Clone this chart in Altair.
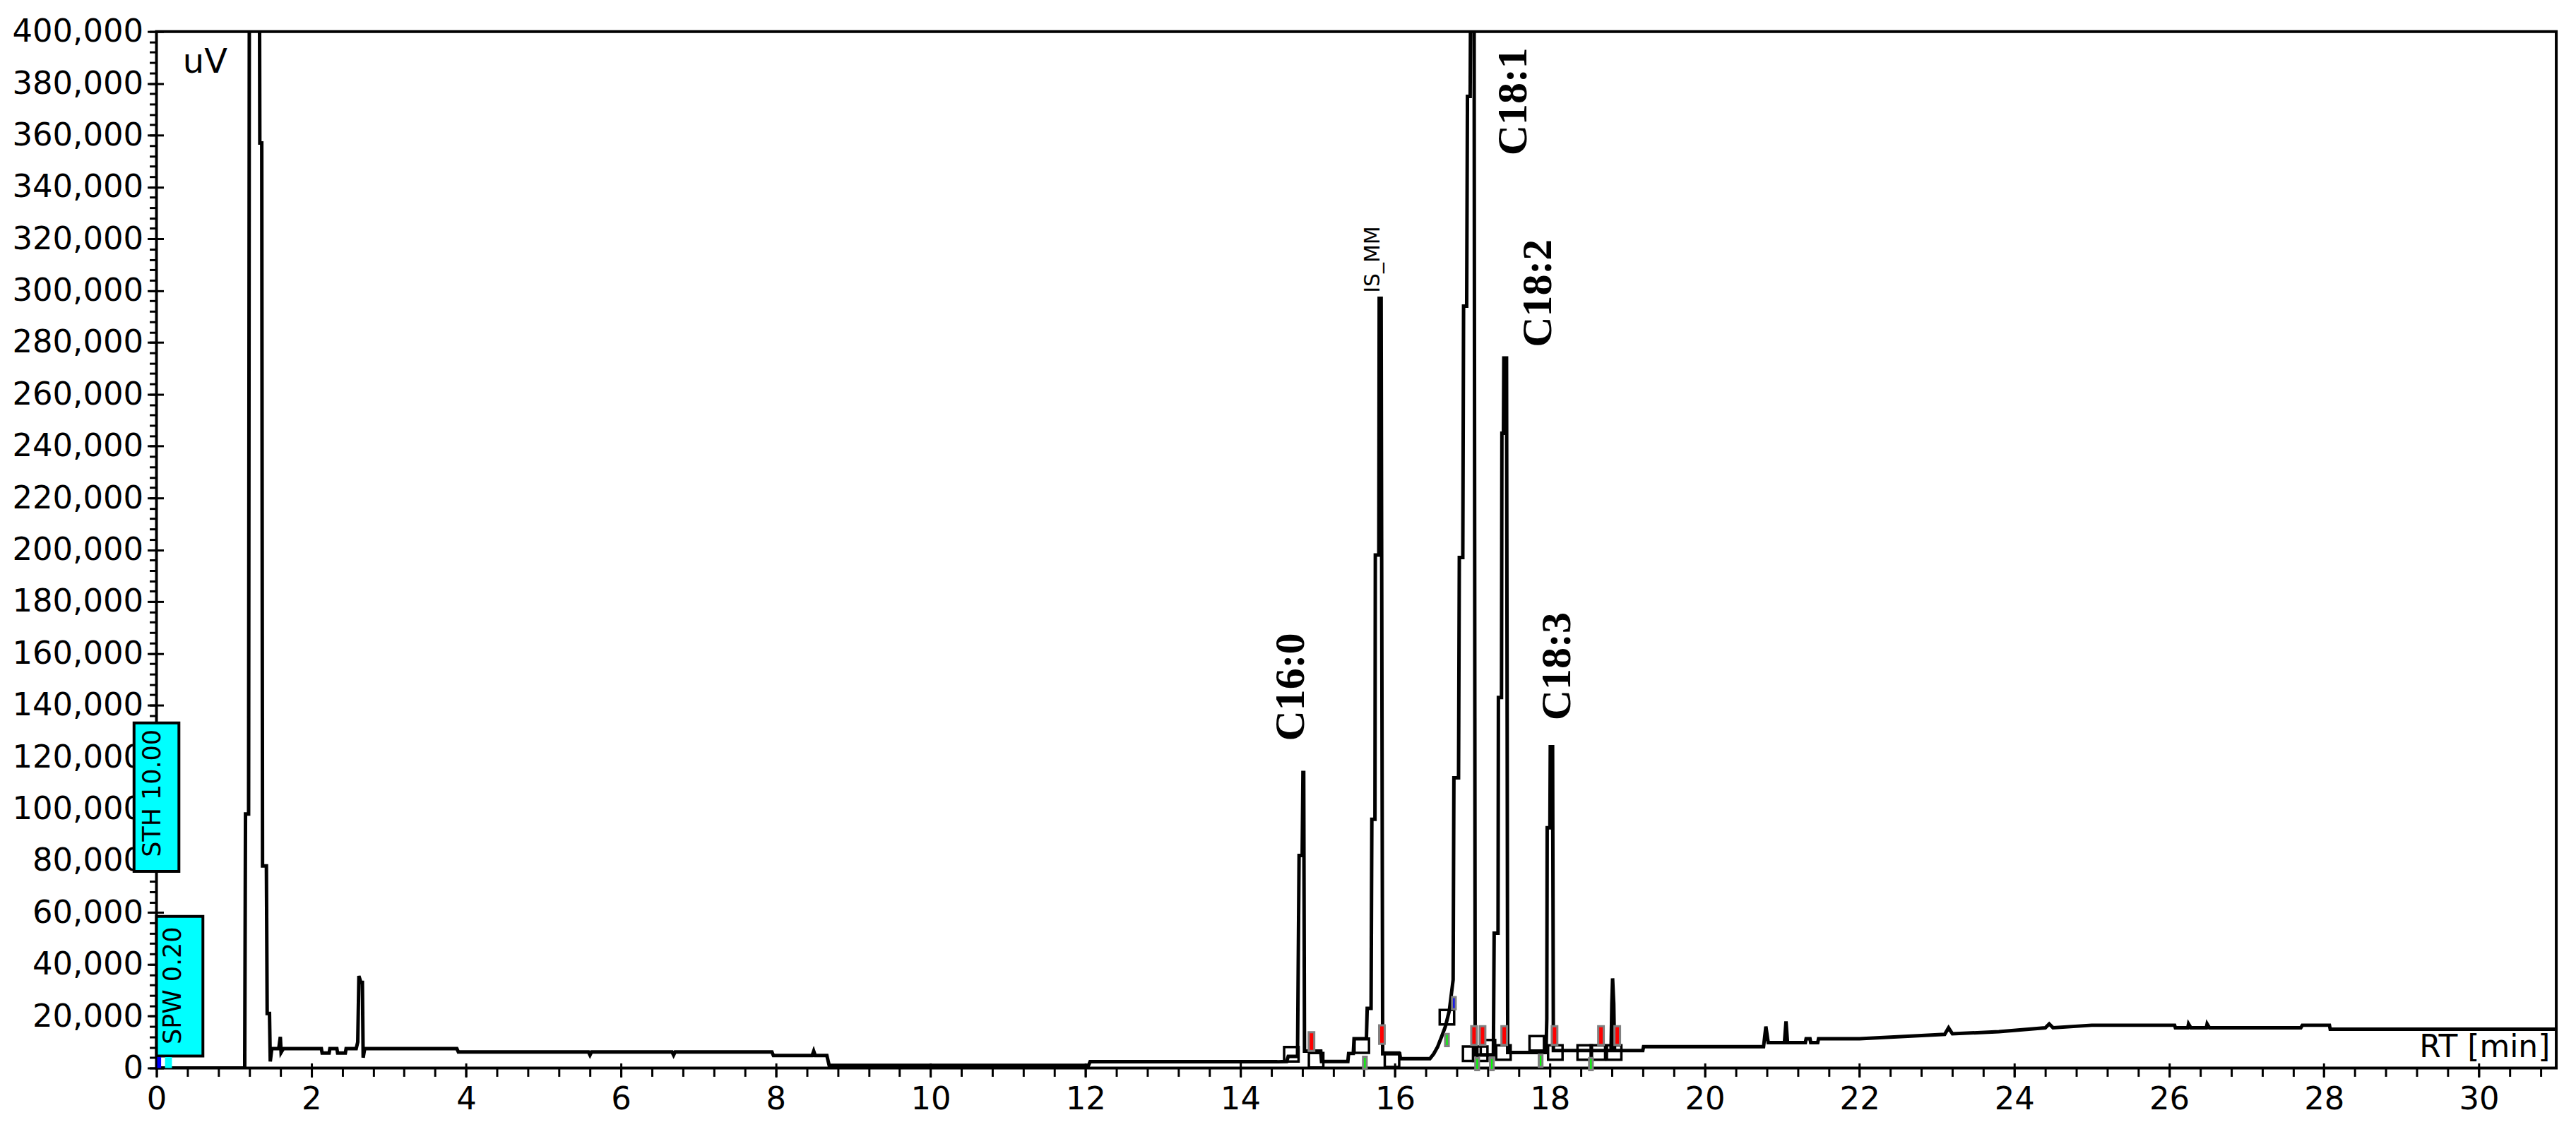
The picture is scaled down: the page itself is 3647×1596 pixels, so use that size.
import altair as alt
import pandas as pd

# ---------------- chromatogram trace (RT in min, signal in uV) ----------------
time_min = [
    0.00, 1.14, 1.15, 1.19, 1.20, 1.33, 1.335, 1.36, 1.37, 1.42, 1.43, 1.46, 1.47, 1.49,
    1.58, 1.60, 1.61, 1.64, 2.13, 2.14, 2.23, 2.24, 2.33, 2.34, 2.44, 2.45, 2.58, 2.60,
    2.615, 2.64, 2.66, 2.67, 2.69, 3.88, 3.90, 5.58, 5.60, 5.62, 6.66, 6.68, 6.70, 7.95,
    7.97, 8.47, 8.49, 8.51, 8.66, 8.69, 12.04, 12.06, 14.48, 14.60, 14.62, 14.74, 14.76,
    14.80, 14.81, 14.82, 14.83, 15.04, 15.05, 15.39, 15.40, 15.46, 15.47, 15.63, 15.64,
    15.69, 15.70, 15.74, 15.745, 15.79, 15.795, 15.82, 15.84, 16.06, 16.07, 16.45, 16.50,
    16.55, 16.60, 16.65, 16.70, 16.75, 16.76, 16.82, 16.83, 16.875, 16.885, 16.925,
    16.935, 16.97, 16.98, 17.02, 17.035, 17.27, 17.28, 17.33, 17.335, 17.375, 17.38,
    17.40, 17.405, 17.44, 17.455, 17.95, 17.96, 17.965, 18.00, 18.005, 18.035, 18.045,
    18.79, 18.80, 18.81, 18.825, 18.835, 19.20, 19.21, 20.76, 20.79, 20.82, 21.03, 21.05,
    21.07, 21.30, 21.31, 21.36, 21.37, 21.46, 21.47, 22.00, 22.80, 23.10, 23.15, 23.20,
    23.80, 24.40, 24.45, 24.50, 25.00, 26.07, 26.08, 26.24, 26.25, 26.28, 26.48, 26.49,
    26.52, 27.70, 27.72, 28.07, 28.08, 31.00,
]
signal_uv = [
    0, 0, 98000, 98000, 430000, 430000, 357000, 357000, 78000, 78000, 21000, 21000, 2500, 7500,
    7500, 12000, 6000, 7500, 7500, 5800, 5800, 7500, 7500, 5800, 5800, 7500, 7500, 10000,
    35500, 33000, 33000, 4000, 7500, 7500, 6200, 6200, 5000, 6200, 6200, 5000, 6200, 6200,
    4800, 4800, 6500, 4800, 4800, 1000, 1000, 2400, 2400, 2500, 4500, 4500, 82000,
    82000, 114000, 114000, 6500, 6500, 2500, 2500, 5600, 5600, 11300, 11300, 23000,
    23000, 96000, 96000, 198000, 198000, 297000, 297000, 5500, 5500, 3600, 3600, 5500,
    8200, 12000, 16000, 22000, 34000, 112000, 112000, 197000, 197000, 294000, 294000,
    375000, 375000, 440000, 440000, 5000, 5000, 52000, 52000, 143000, 143000, 245000,
    245000, 274000, 274000, 6000, 6000, 19000, 92700, 92700, 124000, 124000, 6700,
    6700, 24800, 34600, 24800, 6700, 6700, 8200, 8200, 16000, 9800, 9800, 18000,
    9800, 9800, 11300, 11300, 9800, 9800, 11300, 11300, 12500, 13000, 15500, 13200,
    14000, 15500, 17000, 15500, 16500, 16500, 15500, 15500, 17000, 15500, 15500, 17000,
    15500, 15500, 16500, 16500, 15000, 15000,
]

# integration markers
box_t = [14.66, 14.98, 15.57, 15.96, 16.67, 16.97, 17.10, 17.20, 17.40, 17.83, 18.07, 18.45, 18.62, 18.83]
box_v = [5300, 3000, 8600, 3200, 19600, 5500, 5500, 8000, 6000, 9500, 6000, 6000, 6000, 6000]
red_t = [14.92, 15.83, 17.02, 17.13, 17.41, 18.06, 18.66, 18.87]
red_v = [10200, 12900, 12500, 12500, 12500, 12500, 12500, 12500]
green_t = [15.61, 16.67, 17.06, 17.25, 17.88, 18.53]
green_v = [2000, 10800, 1500, 1500, 2800, 1500]
blue_t = [16.76]
blue_v = [25000]

# peak labels
peak_names = ["C16:0", "C18:1", "C18:2", "C18:3"]
peak_label_t = [14.66, 17.53, 17.85, 18.10]
peak_label_v = [147000, 373000, 299000, 155000]
is_name = ["IS_MM"]
is_t = [15.72]
is_v = [312000]

# cyan parameter boxes
param_names = ["STH 10.00", "SPW 0.20"]
param_t0 = [-0.29, 0.0]
param_t1 = [0.29, 0.6]
param_v0 = [75900, 4600]
param_v1 = [133200, 58500]
param_text_t = [-0.05, 0.21]
param_text_v = [106000, 31800]
mini_t0 = [0.01, 0.11]
mini_t1 = [0.06, 0.20]
mini_v0 = [0, 0]
mini_v1 = [4200, 4200]
mini_color = ["#0000FF", "#00FFFF"]

# axes
x_major = list(range(0, 31, 2))
x_minor = [round(0.4 * i, 1) for i in range(0, 78)]
y_major = list(range(0, 400001, 20000))
y_minor = list(range(0, 400001, 4000))

xs = alt.Scale(domain=[0, 31], nice=False, zero=False)
ys = alt.Scale(domain=[0, 400000], nice=False)
FONT = "DejaVu Sans"


def X(field):
    return alt.X(field, scale=xs, axis=None)


def Y(field):
    return alt.Y(field, scale=ys, axis=None)


trace = pd.DataFrame({"t": time_min, "v": signal_uv})

line = alt.Chart(trace).mark_line(color="black", strokeWidth=5, clip=True).encode(
    x=alt.X("t:Q", scale=xs, axis=alt.Axis(
        values=x_major, format="d", orient="bottom", title=None, grid=False, domain=False,
        tickSize=13, tickWidth=3, tickColor="black", labelFont=FONT, labelFontSize=45,
        labelColor="black", labelPadding=9, labelFlush=False, labelOverlap=False, labelLimit=500)),
    y=alt.Y("v:Q", scale=ys, axis=alt.Axis(
        values=y_major, format=",d", orient="left", title=None, grid=False, domain=False,
        tickSize=13, tickWidth=3, tickColor="black", labelFont=FONT, labelFontSize=45,
        labelColor="black", labelPadding=6, labelOverlap=False, labelLimit=500)),
)

minor = alt.Chart(trace).mark_point(opacity=0).encode(
    x=alt.X("t:Q", scale=xs, axis=alt.Axis(
        values=x_minor, labels=False, orient="bottom", title=None, grid=False, domain=False,
        tickSize=12, tickWidth=3, tickColor="black")),
    y=alt.Y("v:Q", scale=ys, axis=alt.Axis(
        values=y_minor, labels=False, orient="left", title=None, grid=False, domain=False,
        tickSize=10, tickWidth=3, tickColor="black")),
)

inner = alt.Chart(trace).mark_point(opacity=0).encode(
    x=alt.X("t:Q", scale=xs, axis=alt.Axis(
        values=x_major, labels=False, orient="bottom", title=None, grid=False, domain=False,
        tickSize=7, tickWidth=3, tickColor="black", offset=-7)),
    y=alt.Y("v:Q", scale=ys, axis=alt.Axis(
        values=y_major, labels=False, orient="left", title=None, grid=False, domain=False,
        tickSize=9, tickWidth=3, tickColor="black", offset=-10)),
)

boxes = alt.Chart(pd.DataFrame({"t": box_t, "v": box_v})).mark_point(
    shape="square", filled=False, stroke="black", strokeWidth=3.5, size=420, opacity=1
).encode(x=X("t:Q"), y=Y("v:Q"))

rect_shape = "M-0.3,-1L0.3,-1L0.3,1L-0.3,1Z"
reds = alt.Chart(pd.DataFrame({"t": red_t, "v": red_v})).mark_point(
    shape=rect_shape, filled=True, fill="#FF0000", stroke="#808080", strokeWidth=3, size=700, opacity=1
).encode(x=X("t:Q"), y=Y("v:Q"))
greens = alt.Chart(pd.DataFrame({"t": green_t, "v": green_v})).mark_point(
    shape=rect_shape, filled=True, fill="#00FF00", stroke="#808080", strokeWidth=3, size=300, opacity=1
).encode(x=X("t:Q"), y=Y("v:Q"))
blues = alt.Chart(pd.DataFrame({"t": blue_t, "v": blue_v})).mark_point(
    shape=rect_shape, filled=True, fill="#0000FF", stroke="#808080", strokeWidth=3, size=300, opacity=1
).encode(x=X("t:Q"), y=Y("v:Q"))

peak_labels = alt.Chart(pd.DataFrame({"t": peak_label_t, "v": peak_label_v, "n": peak_names})).mark_text(
    angle=270, font="Liberation Serif", fontSize=60, fontWeight="bold", color="black",
    align="center", baseline="middle"
).encode(x=X("t:Q"), y=Y("v:Q"), text="n:N")

is_label = alt.Chart(pd.DataFrame({"t": is_t, "v": is_v, "n": is_name})).mark_text(
    angle=270, font=FONT, fontSize=30, color="black", align="center", baseline="middle"
).encode(x=X("t:Q"), y=Y("v:Q"), text="n:N")

param_boxes = alt.Chart(pd.DataFrame({"t0": param_t0, "t1": param_t1, "v0": param_v0, "v1": param_v1})).mark_rect(
    fill="#00FFFF", stroke="black", strokeWidth=4
).encode(x=X("t0:Q"), x2="t1:Q", y=Y("v0:Q"), y2="v1:Q")

param_text = alt.Chart(pd.DataFrame({"t": param_text_t, "v": param_text_v, "n": param_names})).mark_text(
    angle=270, font=FONT, fontSize=35, color="black", align="center", baseline="middle"
).encode(x=X("t:Q"), y=Y("v:Q"), text="n:N")

mini = alt.Chart(pd.DataFrame({"t0": mini_t0, "t1": mini_t1, "v0": mini_v0, "v1": mini_v1, "c": mini_color})).mark_rect(
).encode(x=X("t0:Q"), x2="t1:Q", y=Y("v0:Q"), y2="v1:Q",
         color=alt.Color("c:N", scale=None))

uv_text = alt.Chart(pd.DataFrame({"t": [0.34], "v": [384000], "n": ["uV"]})).mark_text(
    font=FONT, fontSize=48, color="black", align="left", baseline="alphabetic"
).encode(x=X("t:Q"), y=Y("v:Q"), text="n:N")

rt_text = alt.Chart(pd.DataFrame({"t": [30.92], "v": [4200], "n": ["RT [min]"]})).mark_text(
    font=FONT, fontSize=44, color="black", align="right", baseline="alphabetic"
).encode(x=X("t:Q"), y=Y("v:Q"), text="n:N")

chart = alt.layer(
    line, minor, inner, boxes, reds, greens, blues, peak_labels, is_label,
    param_boxes, param_text, mini, uv_text, rt_text
).resolve_axis(x="independent", y="independent").properties(
    width=3405, height=1471,
    padding={"left": 214, "top": 35, "right": 20, "bottom": 74},
    autosize=alt.AutoSizeParams(type="none"),
    background="white",
).configure_view(stroke="black", strokeWidth=4)

chart.save("out.html", embed_options={"renderer": "svg", "actions": False})
